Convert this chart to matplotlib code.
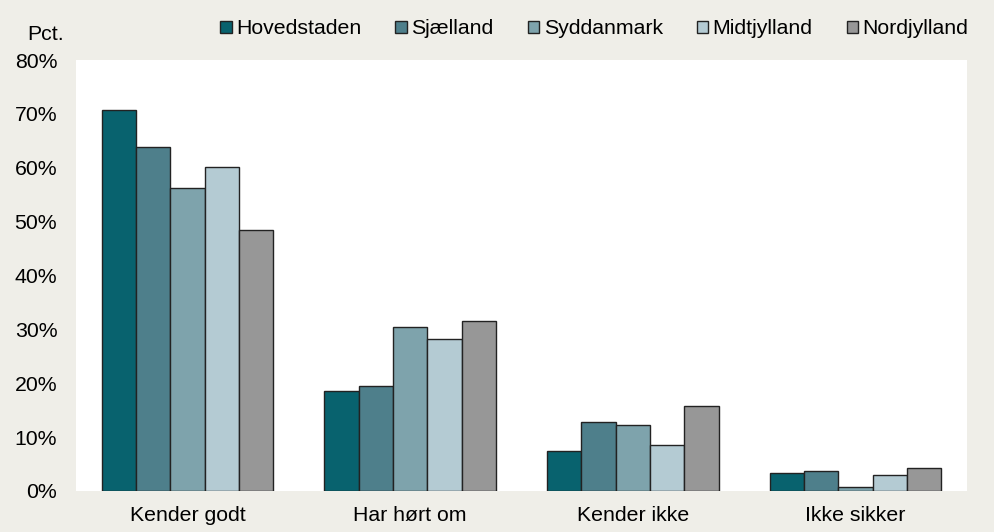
import numpy as np
import matplotlib.pyplot as plt

plt.rcParams['font.family'] = ['Liberation Sans', 'DejaVu Sans']

categories = ['Kender godt', 'Har hørt om', 'Kender ikke', 'Ikke sikker']
regions = ['Hovedstaden', 'Sjælland', 'Syddanmark', 'Midtjylland', 'Nordjylland']
hovedstaden = [70.7, 18.5, 7.5, 3.4]
sjaelland = [63.9, 19.4, 12.9, 3.7]
syddanmark = [56.3, 30.5, 12.3, 0.7]
midtjylland = [60.2, 28.2, 8.6, 3.0]
nordjylland = [48.4, 31.6, 15.7, 4.3]
colors = ['#08626e', '#4e7f8b', '#7ea3ac', '#b4cbd3', '#979797']

series = [hovedstaden, sjaelland, syddanmark, midtjylland, nordjylland]
bg = '#efeee8'
fs = 15.3

fig = plt.figure(figsize=(9.95, 5.32), dpi=100, facecolor=bg)
ax = fig.add_axes([76/995, 1-491/532, 891/995, 431/532])
ax.set_facecolor('white')

x = np.arange(len(categories))
w = 0.154
for i, (vals, name) in enumerate(zip(series, regions)):
    ax.bar(x + (i - 2) * w, vals, w, color=colors[i], edgecolor='#222222',
           linewidth=1.0, label=name)

ax.set_xlim(-0.5, 3.5)
ax.set_ylim(0, 80)
ax.set_yticks(range(0, 81, 10))
ax.set_yticklabels([f'{v}%' for v in range(0, 81, 10)], fontsize=fs)
ax.set_xticks(x)
ax.set_xticklabels(categories, fontsize=fs)
ax.tick_params(length=0)
ax.tick_params(axis='y', pad=13.5)
ax.tick_params(axis='x', pad=11)
for s in ax.spines.values():
    s.set_visible(False)

fig.text(27/995, 1-34/532, 'Pct.', fontsize=fs, va='center', ha='left')

ax.legend(loc='center right', bbox_to_anchor=(977/995, 1-29/532),
          bbox_transform=fig.transFigure, ncol=5, frameon=False,
          fontsize=fs, handlelength=0.55, handleheight=0.55,
          handletextpad=0.2, columnspacing=1.6, borderaxespad=0)

fig.savefig('out.png', dpi=100, facecolor=bg)
